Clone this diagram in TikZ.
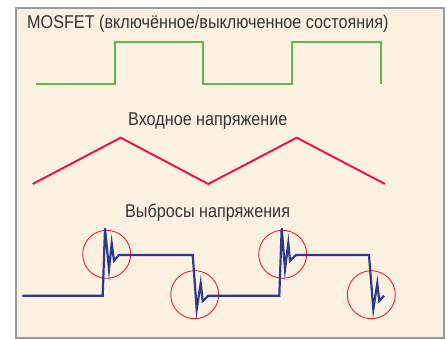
\documentclass[tikz,border=0pt]{standalone}
\usepackage{fontspec}
\setmainfont[FakeStretch=0.875]{Liberation Sans}
\definecolor{cream}{HTML}{FDF1E1}
\definecolor{framegray}{HTML}{9A9A9A}
\definecolor{txt}{HTML}{333333}
\definecolor{wgreen}{HTML}{5DBB46}
\definecolor{wred}{HTML}{E5194B}
\definecolor{wblue}{HTML}{2B3990}
\definecolor{cred}{HTML}{E8232D}
\tikzset{
  lbl/.style={anchor=base west, inner sep=0pt, text=txt, font=\fontsize{18.5}{21}\selectfont},
  wave/.style={line width=2pt, line join=miter},
  mark circle/.style={draw=cred, line width=0.9pt}
}
\begin{document}
\begin{tikzpicture}[x=1pt,y=-1pt]
\useasboundingbox (0,0) rectangle (447,339);
\fill[white] (0,0) rectangle (447,339);
\draw[fill=cream, draw=framegray, line width=2pt] (16,8) rectangle (444,338);
\node[lbl] (t1) at (27,28.5) {MOSFET (включённое/выключенное состояния)};
\node[lbl] (t2) at (128,126) {Входное напряжение};
\node[lbl] (t3) at (125,218) {Выбросы напряжения};
% MOSFET on/off
\draw[wave, wgreen, line width=2.2pt] (36,84) -- (115,84) -- (115,42) -- (203,42) -- (203,84) -- (292,84) -- (292,42) -- (381,42) -- (381,84);
% input voltage
\draw[wave, wred] (32.7,184) -- (120.7,137.7) -- (208.3,184) -- (296.7,137.7) -- (385,184);
% circles
\draw[mark circle] (106.7,254.3) circle (24);
\draw[mark circle] (194.7,294.7) circle (24);
\draw[mark circle] (282.7,254.3) circle (24);
\draw[mark circle] (371.3,294.7) circle (24);
% spikes
\draw[wave, wblue, line width=2.2pt] (22.3,295.7) -- (102.7,295.7) -- (105,228.3) -- (109,269.3) -- (111.7,243.3) -- (114,260.7) -- (119,255)
  -- (192.7,255) -- (196.7,309.3) -- (200.7,283.3) -- (202.7,301) -- (208.3,295.7)
  -- (279.3,295.7) -- (281.7,228.3) -- (285,269.3) -- (288.3,243.3) -- (290,260.7) -- (296,255)
  -- (369,255) -- (373.3,309.3) -- (377.3,283.3) -- (379.3,301) -- (384,295.7);
\end{tikzpicture}
\end{document}
